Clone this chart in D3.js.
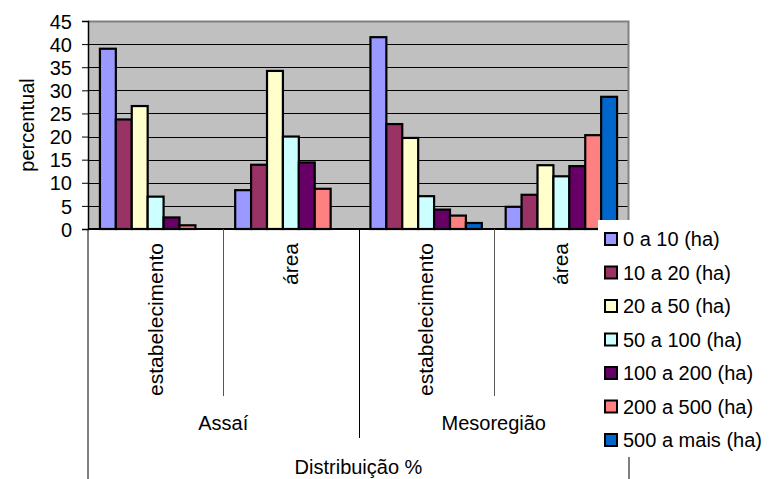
<!DOCTYPE html>
<html>
<head>
<meta charset="utf-8">
<script src="https://cdn.jsdelivr.net/npm/d3@7"></script>
<style>
  html, body { margin: 0; padding: 0; background: #fff; }
  svg { display: block; }
  text { font-family: "Liberation Sans", Arial, sans-serif; fill: #000; }
</style>
</head>
<body>
<svg id="chart" width="770" height="479"></svg>
<script>
// Category hierarchy: outer region, inner measure
const regions = ["Assaí", "Mesoregião"];
const measures = ["estabelecimento", "área"];
const groups = ["Assaí|estabelecimento", "Assaí|área", "Mesoregião|estabelecimento", "Mesoregião|área"];

// Farm size classes (series)
const classes = ["0 a 10 (ha)", "10 a 20 (ha)", "20 a 50 (ha)", "50 a 100 (ha)", "100 a 200 (ha)", "200 a 500 (ha)", "500 a mais (ha)"];
const colors = ["#9999FF", "#993366", "#FFFFCC", "#CCFFFF", "#660066", "#FF8080", "#0066CC"];

// Percent per class, one array per group (order follows `groups`)
const assaiEstab = [39.0, 23.7, 26.6, 7.0, 2.5, 0.8, 0];
const assaiArea = [8.4, 13.9, 34.2, 20.0, 14.4, 8.7, 0];
const mesoEstab = [41.5, 22.7, 19.7, 7.1, 4.2, 2.9, 1.3];
const mesoArea = [4.8, 7.4, 13.8, 11.4, 13.6, 20.3, 28.6];
const seriesByGroup = [assaiEstab, assaiArea, mesoEstab, mesoArea];

const yTicks = [0, 5, 10, 15, 20, 25, 30, 35, 40, 45];
const yTitle = "percentual";
const xTitle = "Distribuição %";

const svg = d3.select("#chart");
const plot = { left: 88, right: 629, top: 21, bottom: 229 };
const FONT = 20;

const y = d3.scaleLinear().domain([0, 45]).range([plot.bottom, plot.top]);
const x0 = d3.scaleBand().domain(groups).range([plot.left, plot.right]).padding(0);
const x1 = d3.scaleBand().domain(classes).range([0, x0.bandwidth()]).paddingInner(0).paddingOuter(0.75);
const xr = d3.scaleBand().domain(regions).range([plot.left, plot.right]).padding(0);

// plot background
svg.append("rect")
  .attr("x", plot.left).attr("y", plot.top)
  .attr("width", plot.right - plot.left).attr("height", plot.bottom - plot.top)
  .attr("fill", "#C0C0C0");

// gridlines
svg.append("g").selectAll("line")
  .data(yTicks.filter(t => t > 0))
  .join("line")
  .attr("x1", plot.left).attr("x2", plot.right)
  .attr("y1", d => Math.round(y(d)) + 0.5).attr("y2", d => Math.round(y(d)) + 0.5)
  .attr("stroke", "#000").attr("stroke-width", 1);

// plot border (top/right)
svg.append("path")
  .attr("d", `M${plot.left},${plot.top + 0.5}H${plot.right - 0.5}V${plot.bottom}`)
  .attr("fill", "none").attr("stroke", "#808080").attr("stroke-width", 2);

// bars
const gGroups = svg.append("g").selectAll("g")
  .data(groups.map((g, i) => ({ key: g, values: seriesByGroup[i] })))
  .join("g")
  .attr("transform", d => `translate(${x0(d.key)},0)`);

gGroups.selectAll("rect")
  .data(d => d.values.map((v, j) => ({ cls: classes[j], value: v, color: colors[j] })).filter(b => b.value > 0))
  .join("rect")
  .attr("x", d => x1(d.cls))
  .attr("y", d => y(d.value))
  .attr("width", x1.bandwidth())
  .attr("height", d => y(0) - y(d.value))
  .attr("fill", d => d.color)
  .attr("stroke", "#000")
  .attr("stroke-width", 2.2);

// y axis
const yAxis = d3.axisLeft(y).tickValues(yTicks).tickSize(6).tickPadding(10);
const yg = svg.append("g").attr("transform", `translate(${plot.left},0)`).call(yAxis);
yg.select(".domain").attr("stroke", "#000").attr("stroke-width", 1.5);
yg.selectAll(".tick line").attr("stroke", "#000");
yg.selectAll(".tick text").attr("font-size", FONT).attr("font-family", "Liberation Sans, Arial, sans-serif").attr("dy", "0.36em");

// x axis baseline
svg.append("line")
  .attr("x1", plot.left).attr("x2", plot.right)
  .attr("y1", plot.bottom).attr("y2", plot.bottom)
  .attr("stroke", "#000").attr("stroke-width", 2);

// category dividers: inner level
svg.append("g").selectAll("line")
  .data([groups[1], groups[3]])
  .join("line")
  .attr("x1", d => Math.round(x0(d)) + 0.5).attr("x2", d => Math.round(x0(d)) + 0.5)
  .attr("y1", plot.bottom).attr("y2", 396)
  .attr("stroke", "#555").attr("stroke-width", 1);

// region divider
svg.append("line")
  .attr("x1", Math.round(xr(regions[1])) + 0.5).attr("x2", Math.round(xr(regions[1])) + 0.5)
  .attr("y1", plot.bottom).attr("y2", 438)
  .attr("stroke", "#000").attr("stroke-width", 1);

// outer frame lines
svg.append("g").selectAll("line")
  .data([plot.left, plot.right])
  .join("line")
  .attr("x1", d => d).attr("x2", d => d)
  .attr("y1", plot.bottom).attr("y2", 479)
  .attr("stroke", "#000").attr("stroke-width", 1);

// inner category labels (rotated)
svg.append("g").selectAll("text")
  .data(groups)
  .join("text")
  .attr("transform", d => `translate(${x0(d) + x0.bandwidth() / 2 + 7},243) rotate(-90)`)
  .attr("text-anchor", "end")
  .attr("font-size", 21)
  .text(d => d.split("|")[1]);

// region labels
svg.append("g").selectAll("text")
  .data(regions)
  .join("text")
  .attr("x", d => xr(d) + xr.bandwidth() / 2)
  .attr("y", 430)
  .attr("text-anchor", "middle")
  .attr("font-size", FONT)
  .text(d => d);

// axis titles
svg.append("text")
  .attr("x", (plot.left + plot.right) / 2)
  .attr("y", 474)
  .attr("text-anchor", "middle")
  .attr("font-size", FONT)
  .text(xTitle);

svg.append("text")
  .attr("transform", `translate(34,${(plot.top + plot.bottom) / 2}) rotate(-90)`)
  .attr("text-anchor", "middle")
  .attr("font-size", FONT)
  .text(yTitle);

// legend
const legend = svg.append("g");
legend.append("rect")
  .attr("x", 598).attr("y", 220).attr("width", 180).attr("height", 237)
  .attr("fill", "#fff");

const rowY = d3.scalePoint().domain(classes).range([239, 440]);
const items = legend.selectAll("g.item")
  .data(classes.map((c, i) => ({ cls: c, color: colors[i] })))
  .join("g")
  .attr("class", "item")
  .attr("transform", d => `translate(0,${rowY(d.cls)})`);

items.append("rect")
  .attr("x", 605).attr("y", -6).attr("width", 12).attr("height", 12)
  .attr("fill", d => d.color).attr("stroke", "#000").attr("stroke-width", 2);

items.append("text")
  .attr("x", 623).attr("y", 0).attr("dy", "0.36em")
  .attr("font-size", FONT)
  .text(d => d.cls);
</script>
</body>
</html>
